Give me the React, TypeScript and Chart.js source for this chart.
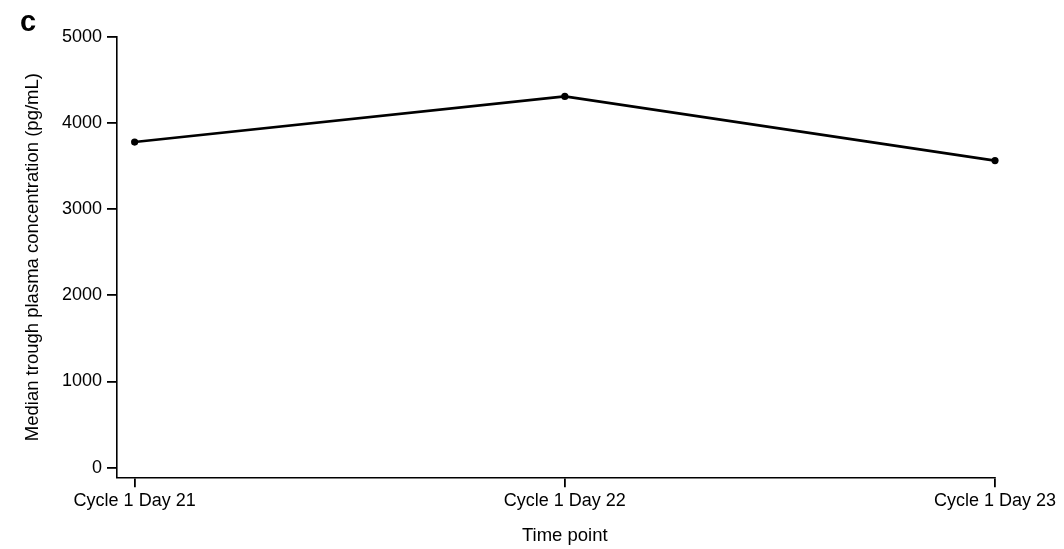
import React, { useEffect, useRef } from "react";
import { Chart, registerables } from "chart.js";

Chart.register(...registerables);

const categories: string[] = ["Cycle 1 Day 21", "Cycle 1 Day 22", "Cycle 1 Day 23"];
const medianTrough: number[] = [3780, 4310, 3565];
const yTickValues: number[] = [0, 1000, 2000, 3000, 4000, 5000];
const panelLabel = "c";
const xTitle = "Time point";
const yTitle = "Median trough plasma concentration (pg/mL)";

const FONT = "'Liberation Sans', Arial, Helvetica, sans-serif";

const overlayText = {
  id: "overlayText",
  afterDraw(chart: any) {
    const { ctx, scales } = chart;
    ctx.save();
    ctx.fillStyle = "#000";
    ctx.font = `bold 29px ${FONT}`;
    ctx.textAlign = "left";
    ctx.textBaseline = "alphabetic";
    ctx.fillText(panelLabel, 20, 31);
    const x = scales.x;
    const cx = (x.getPixelForValue(0) + x.getPixelForValue(categories.length - 1)) / 2;
    ctx.font = `18.5px ${FONT}`;
    ctx.textAlign = "center";
    ctx.textBaseline = "middle";
    ctx.fillText(xTitle, cx, 536);
    ctx.restore();
  },
};

export default function App() {
  const ref = useRef<HTMLCanvasElement | null>(null);
  useEffect(() => {
    if (!ref.current) return;
    const chart = new Chart(ref.current, {
      type: "line",
      data: {
        datasets: [
          {
            data: medianTrough.map((v, i) => ({ x: i, y: v })),
            borderColor: "#000",
            backgroundColor: "#000",
            borderWidth: 2.6,
            pointRadius: 3.6,
            pointBackgroundColor: "#000",
            pointBorderWidth: 0,
            tension: 0,
            clip: false,
          },
        ],
      },
      options: {
        animation: false,
        responsive: false,
        devicePixelRatio: 1,
        layout: { padding: { top: 37, right: 69, bottom: 0, left: 0 } },
        plugins: { legend: { display: false }, tooltip: { enabled: false }, title: { display: false } },
        scales: {
          x: {
            type: "linear",
            min: -0.041,
            max: 2,
            afterBuildTicks: (s: any) => {
              s.ticks = categories.map((_, i) => ({ value: i }));
            },
            afterFit: (s: any) => {
              s.height = 71.7;
            },
            grid: { display: true, drawOnChartArea: false, drawTicks: true, tickLength: 10, color: "#000", lineWidth: 1.8 },
            border: { display: true, color: "#000", width: 1.6 },
            ticks: {
              autoSkip: false,
              maxRotation: 0,
              padding: 3,
              color: "#000",
              font: { family: FONT, size: 18 },
              callback: (v: any) => categories[Math.round(Number(v))] ?? "",
            },
          },
          y: {
            type: "linear",
            min: -112,
            max: 5000,
            afterBuildTicks: (s: any) => {
              s.ticks = yTickValues.map((v) => ({ value: v }));
            },
            afterFit: (s: any) => {
              s.width = 117;
            },
            grid: { display: true, drawOnChartArea: false, drawTicks: true, tickLength: 10, color: "#000", lineWidth: 1.8 },
            border: { display: true, color: "#000", width: 1.6 },
            ticks: {
              padding: 5,
              color: "#000",
              font: { family: FONT, size: 18 },
              callback: (v: any) => String(v),
            },
            title: {
              display: true,
              text: yTitle,
              color: "#000",
              font: { family: FONT, size: 18.5, lineHeight: 1 },
              padding: { top: 24, bottom: 0 },
            },
          },
        },
      },
      plugins: [overlayText],
    });
    return () => chart.destroy();
  }, []);
  return (
    <div style={{ position: "absolute", left: 0, top: 0, width: 1064, height: 549, background: "#fff" }}>
      <canvas ref={ref} width={1064} height={549} style={{ width: 1064, height: 549, display: "block" }} />
    </div>
  );
}
